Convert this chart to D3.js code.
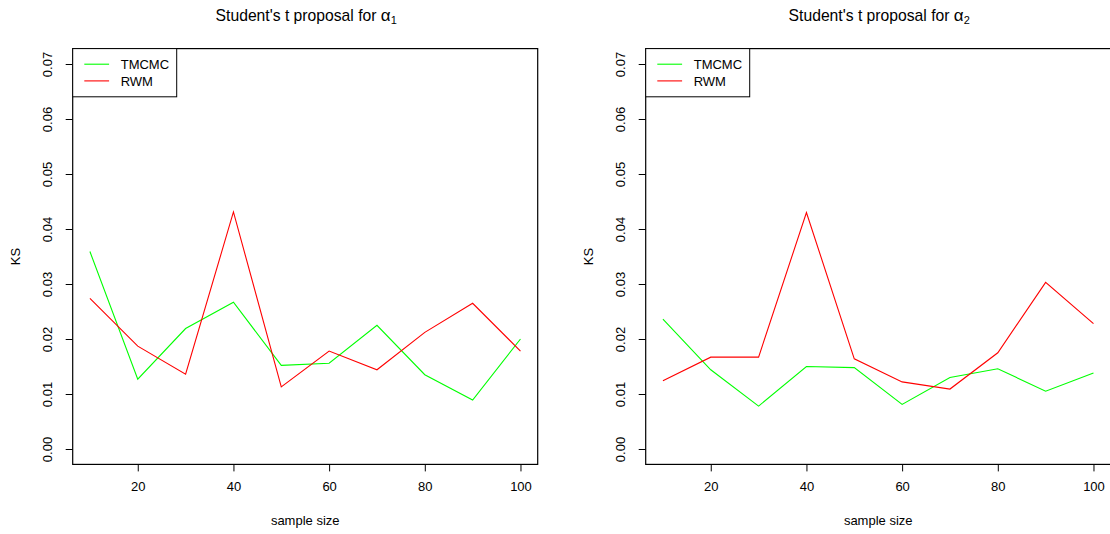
<!DOCTYPE html>
<html>
<head>
<meta charset="utf-8">
<script src="https://cdn.jsdelivr.net/npm/d3@7"></script>
<style>
  body { margin: 0; background: #fff; }
  svg { display: block; font-family: "Liberation Sans", Arial, sans-serif; }
</style>
</head>
<body>
<svg id="chart" width="1110" height="534"></svg>
<script>
const sampleSizes = [10, 20, 30, 40, 50, 60, 70, 80, 90, 100];
const tmcmcAlpha1 = [0.0359, 0.0127, 0.0219, 0.0267, 0.0152, 0.0156, 0.0225, 0.0135, 0.0089, 0.0200];
const rwmAlpha1   = [0.0274, 0.0187, 0.0136, 0.0431, 0.0113, 0.0178, 0.0144, 0.0212, 0.0265, 0.0178];
const tmcmcAlpha2 = [0.0236, 0.0144, 0.0078, 0.0150, 0.0148, 0.0081, 0.0130, 0.0146, 0.0105, 0.0138];
const rwmAlpha2   = [0.0124, 0.0167, 0.0167, 0.0430, 0.0164, 0.0122, 0.0109, 0.0175, 0.0303, 0.0228];
const xTicks = [20, 40, 60, 80, 100];
const yTicks = [0, 0.01, 0.02, 0.03, 0.04, 0.05, 0.06, 0.07];
const seriesNames = ["TMCMC", "RWM"];
const seriesColors = ["#00ff00", "#ff0000"];

const svg = d3.select("#chart");
const FS = 13;

function drawPanel(left, sub, tm, rw) {
  const box = {x0: left, x1: left + 465, y0: 48.6, y1: 464.4};
  const g = svg.append("g");
  const xs = d3.scaleLinear().domain([6.4, 103.6]).range([box.x0, box.x1]);
  const ys = d3.scaleLinear().domain([-0.0028, 0.0728]).range([box.y1, box.y0]);

  // lines
  const line = d3.line().x((d, i) => xs(sampleSizes[i])).y(d => ys(d));
  [tm, rw].forEach((s, k) => {
    g.append("path").datum(s).attr("d", line)
      .attr("fill", "none").attr("stroke", seriesColors[k]).attr("stroke-width", 1.1);
  });

  // box
  g.append("rect").attr("x", box.x0).attr("y", box.y0)
    .attr("width", box.x1 - box.x0).attr("height", box.y1 - box.y0)
    .attr("fill", "none").attr("stroke", "#000").attr("stroke-width", 1.2);

  // x axis
  const xAxis = d3.axisBottom(xs).tickValues(xTicks).tickSize(7).tickPadding(10).tickFormat(d3.format("d"));
  const xa = g.append("g").attr("transform", `translate(0,${box.y1})`).call(xAxis);
  xa.select(".domain").remove();
  xa.selectAll("line").attr("stroke", "#000");
  xa.selectAll("text").attr("font-size", FS).attr("fill", "#000").attr("font-family", "Liberation Sans, Arial, sans-serif");

  // y axis
  const yAxis = d3.axisLeft(ys).tickValues(yTicks).tickSize(7).tickFormat(d3.format(".2f"));
  const ya = g.append("g").attr("transform", `translate(${box.x0},0)`).call(yAxis);
  ya.select(".domain").remove();
  ya.selectAll("line").attr("stroke", "#000");
  ya.selectAll("text")
    .attr("font-size", FS).attr("fill", "#000").attr("font-family", "Liberation Sans, Arial, sans-serif")
    .attr("x", null)
    .attr("text-anchor", "middle")
    .attr("transform", `translate(${-21},0) rotate(-90)`)
    .attr("dy", "0");

  // labels
  g.append("text").attr("x", (box.x0 + box.x1) / 2).attr("y", 525)
    .attr("text-anchor", "middle").attr("font-size", FS).text("sample size");
  g.append("text").attr("transform", `translate(${box.x0 - 53},${(box.y0 + box.y1) / 2}) rotate(-90)`)
    .attr("text-anchor", "middle").attr("font-size", FS).text("KS");

  // title
  const t = g.append("text").attr("x", (box.x0 + box.x1) / 2 + 1).attr("y", 20.5)
    .attr("text-anchor", "middle").attr("font-size", 15.7);
  t.append("tspan").text("Student's t proposal for ");
  t.append("tspan").attr("font-size", 17).text("α");
  t.append("tspan").attr("font-size", 11).attr("dy", 3.5).text(sub);

  // legend
  const lg = g.append("g");
  lg.append("rect").attr("x", box.x0).attr("y", box.y0)
    .attr("width", 104).attr("height", 48.2)
    .attr("fill", "#fff").attr("stroke", "#000").attr("stroke-width", 1);
  seriesNames.forEach((n, k) => {
    const yy = box.y0 + 15.6 + k * 16.7;
    lg.append("line").attr("x1", box.x0 + 11.6).attr("x2", box.x0 + 36.4)
      .attr("y1", yy).attr("y2", yy).attr("stroke", seriesColors[k]).attr("stroke-width", 1.1);
    lg.append("text").attr("x", box.x0 + 48).attr("y", yy + 4.6)
      .attr("font-size", FS).text(n);
  });
}

drawPanel(72.7, "1", tmcmcAlpha1, rwmAlpha1);
drawPanel(645.7, "2", tmcmcAlpha2, rwmAlpha2);
</script>
</body>
</html>
